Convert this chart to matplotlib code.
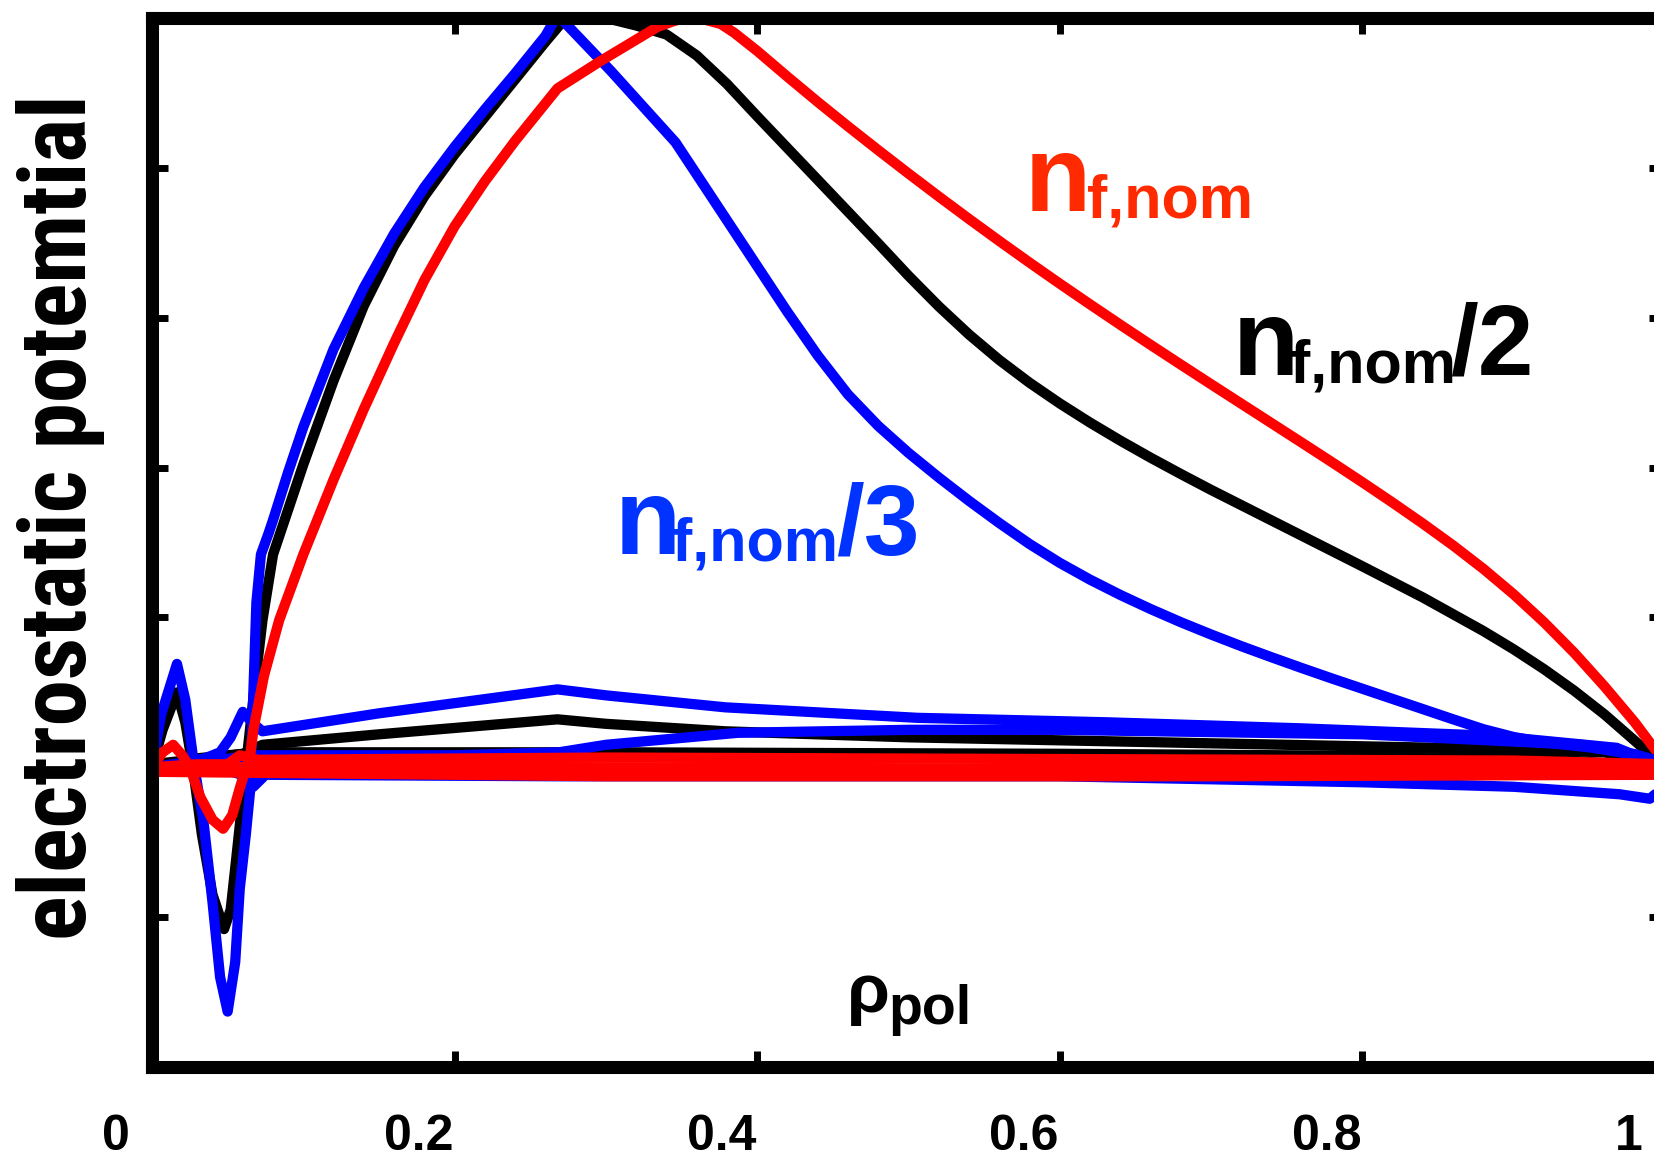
import numpy as np
import matplotlib.pyplot as plt
import matplotlib.transforms as mtransforms
from matplotlib import font_manager
plt.rc('font', family=['Liberation Sans', 'DejaVu Sans'], weight='bold')

# --- data (rho_pol, potential in arbitrary units) ---
blue_hump_x = [0.0, 0.006, 0.0165, 0.022, 0.028, 0.034, 0.040, 0.045, 0.050, 0.055, 0.058, 0.062, 0.065,
               0.067, 0.069, 0.072, 0.077, 0.08, 0.09, 0.10, 0.12, 0.14, 0.16, 0.18, 0.20, 0.22, 0.24,
               0.26, 0.268, 0.303, 0.346, 0.36, 0.38, 0.40, 0.42, 0.44, 0.46, 0.48, 0.50, 0.52, 0.54,
               0.56, 0.58, 0.60, 0.62, 0.64, 0.66, 0.68, 0.70, 0.72, 0.74, 0.76, 0.78, 0.80, 0.82,
               0.84, 0.86, 0.88, 0.90, 0.92, 0.95, 0.98, 1.0]
blue_hump_y = [0.0, 0.35, 0.69, 0.45, 0.0, -0.36, -0.9, -1.4, -1.63, -1.3, -0.81, -0.45, -0.14,
               0.5, 1.1, 1.42, 1.56, 1.65, 1.97, 2.27, 2.79, 3.20, 3.56, 3.87, 4.14, 4.39, 4.63,
               4.88, 5.02, 4.65, 4.17, 3.956, 3.65, 3.344, 3.038, 2.748, 2.488, 2.278, 2.098, 1.934, 1.778,
               1.63, 1.49, 1.364, 1.252, 1.15, 1.056, 0.968, 0.886, 0.808, 0.734, 0.662, 0.592, 0.524, 0.456,
               0.388, 0.32, 0.254, 0.202, 0.166, 0.133, 0.088, 0.028]
blue_low_x = [0.0, 0.02, 0.035, 0.045, 0.052, 0.060, 0.066, 0.073, 0.15, 0.268, 0.30, 0.379, 0.506, 0.632,
              0.759, 0.886, 0.968, 1.0]
blue_low_y = [0.0, 0.03, 0.06, 0.1, 0.2, 0.37, 0.3, 0.24, 0.36, 0.52, 0.48, 0.40, 0.33, 0.30,
              0.26, 0.21, 0.13, 0.0]
blue_mid_x = [0.0, 0.07, 0.2, 0.269, 0.3, 0.387, 0.5, 0.597, 0.8, 0.945, 0.98, 1.0]
blue_mid_y = [0.0, 0.08, 0.08, 0.1, 0.15, 0.23, 0.25, 0.25, 0.22, 0.15, 0.08, 0.0]
blue_neg_x = [0.0, 0.05, 0.062, 0.067, 0.075, 0.27, 0.4, 0.6, 0.8, 0.9, 0.97, 0.99, 0.997]
blue_neg_y = [0.0, -0.02, -0.06, -0.13, -0.05, -0.06, -0.06, -0.06, -0.1, -0.13, -0.18, -0.21, -0.15]

black_hump_x = [0.0, 0.007, 0.0165, 0.022, 0.027, 0.033, 0.040, 0.0476, 0.052, 0.056, 0.060, 0.063, 0.068,
                0.073, 0.08, 0.10, 0.12, 0.14, 0.16, 0.18, 0.20, 0.22, 0.24, 0.26, 0.27, 0.28, 0.30,
                0.32, 0.34, 0.36, 0.38, 0.40, 0.42, 0.44, 0.46, 0.48, 0.50, 0.52, 0.54, 0.56, 0.58,
                0.60, 0.62, 0.64, 0.66, 0.68, 0.70, 0.72, 0.74, 0.76, 0.78, 0.80, 0.82, 0.84, 0.86,
                0.88, 0.90, 0.92, 0.94, 0.96, 0.98, 1.0]
black_hump_y = [0.0, 0.25, 0.50, 0.3, 0.0, -0.45, -0.85, -1.08, -0.95, -0.58, -0.2, 0.09, 0.55,
                0.98, 1.42, 2.02, 2.58, 3.08, 3.48, 3.81, 4.09, 4.34, 4.59, 4.84, 4.96, 5.02, 5.0,
                4.95, 4.89, 4.75, 4.56, 4.344, 4.132, 3.92, 3.708, 3.496, 3.28, 3.076, 2.888, 2.718, 2.566,
                2.428, 2.30, 2.18, 2.066, 1.957, 1.851, 1.749, 1.647, 1.545, 1.443, 1.341, 1.237, 1.133, 1.021,
                0.909, 0.787, 0.655, 0.511, 0.353, 0.177, 0.0]
black_low_x = [0.0, 0.03, 0.06, 0.073, 0.15, 0.268, 0.30, 0.379, 0.5, 0.65, 0.8, 0.9, 0.96, 1.0]
black_low_y = [0.0, 0.06, 0.09, 0.15, 0.22, 0.32, 0.29, 0.24, 0.2, 0.17, 0.14, 0.12, 0.1, 0.0]
black_flat_x = [0.0, 0.07, 0.3, 0.6, 0.9, 1.0]
black_flat_y = [0.02, 0.1, 0.1, 0.09, 0.07, 0.0]

red_hump_x = [0.0, 0.007, 0.014, 0.020, 0.025, 0.032, 0.040, 0.047, 0.053, 0.058, 0.065, 0.067, 0.074,
              0.084, 0.10, 0.12, 0.14, 0.16, 0.18, 0.20, 0.22, 0.24, 0.26, 0.268, 0.296, 0.334, 0.345,
              0.353, 0.365, 0.376, 0.385, 0.40, 0.42, 0.44, 0.46, 0.48, 0.50, 0.52, 0.54, 0.56, 0.58,
              0.60, 0.62, 0.64, 0.66, 0.68, 0.70, 0.72, 0.74, 0.76, 0.78, 0.80, 0.82, 0.84, 0.86,
              0.88, 0.90, 0.92, 0.94, 0.96, 0.98, 1.0]
red_hump_y = [0.0, 0.1, 0.15, 0.08, 0.0, -0.2, -0.35, -0.41, -0.32, -0.14, 0.09, 0.25, 0.61,
              0.98, 1.42, 1.92, 2.39, 2.83, 3.25, 3.61, 3.91, 4.18, 4.43, 4.53, 4.71, 4.94, 4.98,
              5.0, 4.99, 4.96, 4.90, 4.78, 4.608, 4.44, 4.277, 4.118, 3.962, 3.809, 3.659, 3.512, 3.368,
              3.227, 3.089, 2.953, 2.819, 2.687, 2.556, 2.426, 2.296, 2.166, 2.035, 1.902, 1.766, 1.626, 1.48,
              1.324, 1.154, 0.968, 0.764, 0.54, 0.30, 0.03]
red_flat_x = [0.0, 0.03, 0.05, 0.058, 0.07, 0.3, 0.6, 0.9, 1.0]
red_flat_y = [0.0, 0.02, 0.02, 0.08, 0.05, 0.065, 0.055, 0.045, 0.02]
red_zero_x = [0.0, 0.3, 0.6, 1.0]
red_zero_y = [0.0, 0.0, -0.01, 0.0]
red_neg_x = [0.0, 0.3, 0.7, 1.0]
red_neg_y = [-0.03, -0.06, -0.06, -0.05]

xtick_vals = [0, 0.2, 0.4, 0.6, 0.8, 1.0]
xtick_text = ['0', '0.2', '0.4', '0.6', '0.8', '1']

# a narrow face for the y label, if one is installed
names = {f.name for f in font_manager.fontManager.ttflist}
ylab_font = 'Liberation Sans'
for cand in ['Liberation Sans Narrow', 'Roboto Condensed', 'Open Sans Condensed', 'Noto Sans Condensed']:
    if cand in names:
        ylab_font = cand
        break

fig = plt.figure(figsize=(16.54, 11.61), dpi=100)
ax = fig.add_axes([152/1654, 94/1161, 1513/1654, 1049/1161])

lw = 7.4
kw = dict(lw=lw, solid_capstyle='round', solid_joinstyle='round')
for xs, ys in [(black_hump_x, black_hump_y), (black_low_x, black_low_y), (black_flat_x, black_flat_y)]:
    ax.plot(xs, ys, color='black', **kw)
for xs, ys in [(blue_neg_x, blue_neg_y), (blue_mid_x, blue_mid_y), (blue_low_x, blue_low_y), (blue_hump_x, blue_hump_y)]:
    ax.plot(xs, ys, color='#0000ff', **kw)
for xs, ys in [(red_neg_x, red_neg_y), (red_zero_x, red_zero_y), (red_flat_x, red_flat_y), (red_hump_x, red_hump_y)]:
    ax.plot(xs, ys, color='#ff0000', **kw)

ax.set_xlim(0, 1)
ax.set_ylim(-2, 5)
ax.set_xticks(xtick_vals)
ax.set_xticklabels(xtick_text)
ax.set_yticks(np.arange(-2, 6))
ax.set_yticklabels([])
ax.tick_params(direction='in', length=11.5, width=5, top=True, right=True, labelsize=36, pad=34)
for s in ax.spines.values():
    s.set_linewidth(9.4)

# tick labels sit a bit left of their ticks in the original
shift = mtransforms.ScaledTranslation(-36/100, 0, fig.dpi_scale_trans)
for lab in ax.get_xticklabels():
    lab.set_transform(lab.get_transform() + shift)

ylab = fig.text(61/1654, 1 - 517/1161, 'electrostatic potemtial', rotation=90, fontsize=60,
                family=[ylab_font, 'DejaVu Sans'], ha='center', va='center')
# fit the label to the length it has in the original (~846 px)
r = fig.canvas.get_renderer()
h = ylab.get_window_extent(r).height
ylab.set_fontsize(60 * 846 / h)

red_txt = '#ff2a00'
blue_txt = '#0033ff'
ax.text(0.577, 3.71, 'n', color=red_txt, fontsize=78, va='baseline')
ax.text(0.618, 3.67, 'f,nom', color=red_txt, fontsize=44, va='baseline')
ax.text(0.714, 2.62, 'n', color='black', fontsize=78, va='baseline')
ax.text(0.752, 2.57, 'f,nom', color='black', fontsize=44, va='baseline')
ax.text(0.858, 2.62, '/2', color='black', fontsize=72, va='baseline')
ax.text(0.306, 1.42, 'n', color=blue_txt, fontsize=78, va='baseline')
ax.text(0.344, 1.38, 'f,nom', color=blue_txt, fontsize=44, va='baseline')
ax.text(0.452, 1.42, '/3', color=blue_txt, fontsize=72, va='baseline')
ax.text(0.459, -1.63, 'ρ', color='black', fontsize=50, va='baseline')
ax.text(0.487, -1.71, 'pol', color='black', fontsize=40, va='baseline')

plt.savefig('out.png', dpi=100)
plt.close()
